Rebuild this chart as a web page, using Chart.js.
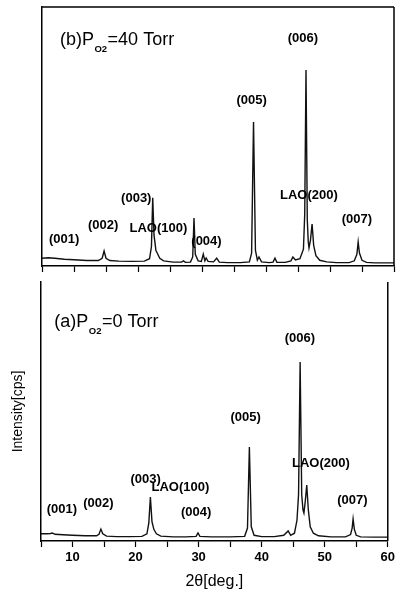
<!DOCTYPE html>
<html>
<head>
<meta charset="utf-8">
<script src="https://cdn.jsdelivr.net/npm/chart.js@4.4.1/dist/chart.umd.min.js"></script>
<style>
html,body{margin:0;padding:0;background:#fff;}
#wrap{position:relative;width:398px;height:591px;overflow:hidden;background:#fff;}
.box{position:absolute;left:0;width:398px;}
</style>
</head>
<body>
<div id="wrap">
  <div class="box" style="top:0;height:280px;"><canvas id="cB"></canvas></div>
  <div class="box" style="top:270px;height:321px;"><canvas id="cA"></canvas></div>
</div>
<script>
// ---------- DATA ----------
// (b) PO2 = 40 Torr
const thetaB = [5.0, 6.0, 7.0, 8.5, 10.0, 12.0, 13.8, 14.4, 14.7, 15.0, 15.6, 17.0, 19.0, 21.0, 21.8, 22.1, 22.3, 22.5, 22.8, 23.0, 23.4, 24.0, 25.5, 26.8, 27.1, 27.4, 28.2, 28.55, 28.75, 28.95, 29.4, 29.9, 30.2, 30.45, 30.65, 30.95, 31.8, 32.3, 32.7, 34.0, 36.0, 37.4, 37.75, 38.05, 38.35, 38.65, 38.9, 39.3, 40.5, 41.1, 41.4, 41.7, 43.0, 43.9, 44.2, 44.6, 45.3, 45.85, 46.05, 46.25, 46.45, 46.6, 46.72, 46.95, 47.2, 47.45, 47.8, 48.4, 49.5, 51.0, 53.0, 53.8, 54.2, 54.4, 54.6, 55.0, 55.7, 57.0, 60.0];
const intensityB = [3.0, 3.2, 3.0, 2.6, 2.4, 2.1, 2.1, 3.0, 5.8, 3.0, 2.1, 1.9, 1.8, 1.9, 2.8, 7.5, 26.3, 12.0, 6.0, 5.0, 3.0, 2.0, 1.5, 1.5, 2.0, 1.4, 1.5, 3.5, 18.5, 4.5, 2.0, 1.8, 4.6, 2.0, 3.1, 1.8, 1.6, 3.0, 1.5, 1.3, 1.3, 1.6, 5.0, 55.6, 6.0, 2.3, 3.5, 1.6, 1.3, 1.5, 3.0, 1.4, 1.4, 2.0, 3.5, 2.3, 2.8, 6.5, 20.0, 75.7, 18.0, 9.5, 7.0, 10.0, 16.2, 8.0, 4.0, 2.2, 1.6, 1.3, 1.3, 2.0, 4.5, 9.3, 5.0, 2.2, 1.4, 1.2, 1.2];

// (a) PO2 = 0 Torr
const thetaA = [5.0, 6.0, 6.5, 6.8, 7.2, 8.5, 10.0, 12.0, 13.8, 14.2, 14.5, 14.8, 15.4, 17.0, 19.0, 21.0, 21.8, 22.1, 22.35, 22.6, 22.9, 23.3, 24.0, 26.0, 28.0, 29.6, 29.9, 30.2, 32.0, 35.0, 37.3, 37.75, 38.05, 38.35, 38.8, 40.0, 42.0, 43.5, 44.2, 44.6, 45.2, 45.6, 45.85, 46.1, 46.35, 46.55, 46.7, 46.9, 47.15, 47.4, 47.7, 48.2, 49.0, 51.0, 53.3, 54.1, 54.35, 54.5, 54.7, 55.0, 55.7, 58.0, 60.0];
const intensityA = [2.8, 2.8, 2.9, 3.1, 2.6, 2.4, 2.2, 2.0, 2.0, 2.6, 4.6, 2.8, 1.9, 1.7, 1.7, 1.8, 2.8, 7.0, 17.0, 7.5, 4.5, 2.8, 1.9, 1.6, 1.6, 1.8, 3.1, 1.8, 1.6, 1.6, 1.8, 5.0, 36.3, 5.5, 2.2, 1.7, 1.7, 2.2, 3.9, 2.2, 3.0, 8.0, 18.0, 69.1, 18.0, 12.0, 10.8, 15.0, 21.6, 12.0, 5.5, 3.0, 2.0, 1.6, 1.6, 2.5, 5.0, 8.5, 4.5, 2.2, 1.6, 1.5, 1.5];

// axis ticks (every 5 degrees, labelled every 10)
const xTickValues = [5, 10, 15, 20, 25, 30, 35, 40, 45, 50, 55, 60];
const xTickLabels = ['', '10', '', '20', '', '30', '', '40', '', '50', '', '60'];

// peak annotations (text, 2theta, intensity)
const peakTextB = ['(001)', '(002)', '(003)', 'LAO(100)', '(004)', '(005)', '(006)', 'LAO(200)', '(007)'];
const peakXB    = [8.45, 14.56, 19.73, 23.18, 30.7, 37.76, 45.75, 46.7, 54.2];
const peakYB    = [10.4, 15.8, 25.9, 14.7, 9.3, 64.1, 88.0, 27.4, 17.8];

const peakTextA = ['(001)', '(002)', '(003)', 'LAO(100)', '(004)', '(005)', '(006)', 'LAO(200)', '(007)'];
const peakXA    = [8.3, 14.1, 21.6, 27.1, 29.6, 37.45, 46.07, 49.4, 54.4];
const peakYA    = [12.0, 14.7, 23.9, 20.5, 11.2, 47.9, 78.4, 30.1, 15.8];

// panel titles: [before subscript, subscript, after subscript], anchor (2theta, intensity)
const titleB = ['(b)P', 'O2', '=40 Torr'];
const titleA = ['(a)P', 'O2', '=0 Torr'];
const titleAnchorB = [7.8, 85.3];
const titleAnchorA = [7.1, 82.6];

// ---------- DRAWING ----------
const FONT = '"Liberation Sans", Arial, Helvetica, sans-serif';

const framePlugin = {
  id: 'frame',
  afterDraw(chart, args, opts) {
    const {ctx, chartArea: {left, right, top, bottom}} = chart;
    ctx.save();
    ctx.strokeStyle = '#000';
    ctx.lineWidth = 1.5;
    ctx.beginPath();
    if (opts.top) { ctx.moveTo(left, top); ctx.lineTo(right, top); }
    ctx.moveTo(right, top); ctx.lineTo(right, bottom);
    ctx.stroke();
    ctx.restore();
  }
};

const annotPlugin = {
  id: 'annot',
  afterDatasetsDraw(chart, args, opts) {
    const {ctx, scales: {x, y}} = chart;
    ctx.save();
    ctx.fillStyle = '#000';
    ctx.font = 'bold 13px ' + FONT;
    ctx.textAlign = 'center';
    ctx.textBaseline = 'middle';
    opts.text.forEach((t, i) => {
      ctx.fillText(t, x.getPixelForValue(opts.xs[i]), y.getPixelForValue(opts.ys[i]));
    });
    // title with subscript
    let px = x.getPixelForValue(opts.anchor[0]);
    const py = y.getPixelForValue(opts.anchor[1]);
    ctx.textAlign = 'left';
    ctx.textBaseline = 'alphabetic';
    ctx.font = '18px ' + FONT;
    ctx.fillText(opts.title[0], px, py);
    px += ctx.measureText(opts.title[0]).width + 0.5;
    ctx.font = 'bold 9.5px ' + FONT;
    ctx.fillText(opts.title[1], px, py + 7);
    px += ctx.measureText(opts.title[1]).width + 0.5;
    ctx.font = '18px ' + FONT;
    ctx.fillText(opts.title[2], px, py);
    ctx.restore();
  }
};

function toPoints(xs, ys) { return xs.map((v, i) => ({x: v, y: ys[i]})); }

function makeChart(id, xs, ys, cfg) {
  return new Chart(document.getElementById(id), {
    type: 'line',
    data: {
      datasets: [{
        data: toPoints(xs, ys),
        borderColor: '#111',
        borderWidth: 1.4,
        pointRadius: 0,
        tension: 0,
        fill: false
      }]
    },
    options: {
      responsive: true,
      maintainAspectRatio: false,
      animation: false,
      events: [],
      layout: {padding: cfg.padding},
      plugins: {
        legend: {display: false},
        tooltip: {enabled: false},
        frame: {top: cfg.frameTop},
        annot: cfg.annot
      },
      scales: {
        x: {
          type: 'linear',
          min: 5, max: 60,
          afterBuildTicks: (s) => { s.ticks = xTickValues.map(v => ({value: v})); },
          afterFit: (s) => { s.height = cfg.xHeight; },
          ticks: {
            autoSkip: false,
            maxRotation: 0,
            display: cfg.showLabels,
            color: '#000',
            padding: 3,
            font: {family: FONT, size: 13, weight: 'bold'},
            callback: (v) => xTickLabels[xTickValues.indexOf(v)]
          },
          grid: {display: true, drawOnChartArea: false, drawTicks: true, tickLength: 6, tickWidth: 1.2, tickColor: '#000'},
          border: {display: true, color: '#000', width: 1.5},
          title: cfg.xTitle
        },
        y: {
          min: 0, max: 100,
          afterFit: (s) => { s.width = cfg.yWidth; },
          ticks: {display: false},
          grid: {display: false},
          border: {display: true, color: '#000', width: 1.5},
          title: cfg.yTitle
        }
      }
    },
    plugins: [framePlugin, annotPlugin]
  });
}

makeChart('cB', thetaB, intensityB, {
  padding: {left: 0, right: 4, top: 7, bottom: 0},
  xHeight: 14, yWidth: 42, frameTop: true, showLabels: false,
  xTitle: {display: false},
  yTitle: {display: false},
  annot: {text: peakTextB, xs: peakXB, ys: peakYB, title: titleB, anchor: titleAnchorB}
});

makeChart('cA', thetaA, intensityA, {
  padding: {left: 0, right: 6, top: 12, bottom: 0},
  xHeight: 50, yWidth: 41, frameTop: false, showLabels: true,
  xTitle: {display: true, text: '2θ[deg.]', color: '#000', font: {family: FONT, size: 16}, padding: {top: 0, bottom: 0}},
  yTitle: {display: true, text: 'Intensity[cps]', color: '#000', font: {family: FONT, size: 14}, padding: {top: 10, bottom: 0}},
  annot: {text: peakTextA, xs: peakXA, ys: peakYA, title: titleA, anchor: titleAnchorA}
});
</script>
</body>
</html>
